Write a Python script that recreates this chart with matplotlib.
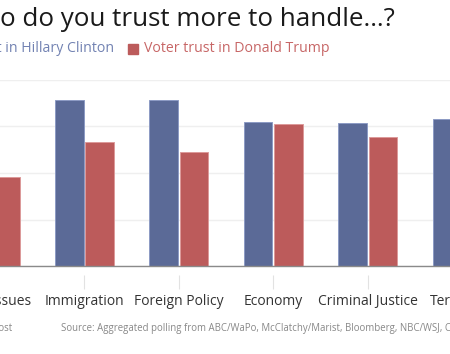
import matplotlib
matplotlib.use("Agg")
import matplotlib.pyplot as plt
import numpy as np
from matplotlib.transforms import ScaledTranslation

plt.rcParams['font.family'] = ['Open Sans', 'DejaVu Sans']

categories = ["Social Issues", "Immigration", "Foreign Policy", "Economy", "Criminal Justice", "Terrorism"]
clinton = [58, 53.5, 53.5, 46.4, 46.0, 47.3]
trump = [28.8, 40.1, 36.8, 45.8, 41.7, 42.0]
yticks = [0, 15, 30, 45, 60]

c_clinton = "#5b6a97"
c_trump = "#bc5b5b"

W, H = 450, 354
fig = plt.figure(figsize=(W / 100, H / 100), dpi=100)

# axes extends beyond the visible (cropped) figure
left_px, right_px = -57.1, 509.3
base_px, top_px = 266, 80
ax = fig.add_axes([left_px / W, (H - base_px) / H, (right_px - left_px) / W, (base_px - top_px) / H])

x = np.arange(len(categories))
bw = 0.301
off = 0.161
ax.bar(x - off, clinton, bw, color=c_clinton, edgecolor="#8d9bc4", linewidth=0.7, zorder=3)
ax.bar(x + off, trump, bw, color=c_trump, edgecolor="#dc9a9a", linewidth=0.7, zorder=3)

ax.set_xlim(-0.5, len(categories) - 0.5)
ax.set_ylim(0, 60)
ax.set_yticks(yticks)
ax.yaxis.grid(True, color="#efefef", linewidth=1.0, zorder=0)
ax.tick_params(axis='y', length=0, labelleft=False)
for s in ["top", "right", "left"]:
    ax.spines[s].set_visible(False)
ax.spines["bottom"].set_color("#8a8a8a")
ax.spines["bottom"].set_linewidth(1.0)
ax.spines["bottom"].set_zorder(4)

ax.set_xticks(x)
ax.set_xticklabels(categories, fontsize=10, color="#333333")
ax.tick_params(axis='x', length=10, width=0.8, color="#e2e2e2", direction='out', pad=10.5)
for t in ax.xaxis.get_major_ticks():
    t.tick1line.set_transform(t.tick1line.get_transform() + ScaledTranslation(0, -9 / 100, fig.dpi_scale_trans))

# title (cropped on the left)
fig.text(395 / W, 1 - 19 / H, "Who do you trust more to handle…?", ha="right", va="center",
         fontsize=18.7, color="#1a1a1a")

# legend
fig.text(114.5 / W, 1 - 49 / H, "Voter trust in Hillary Clinton", ha="right", va="center",
         fontsize=10.2, color="#7282b2")
fig.patches.append(plt.Rectangle((128 / W, 1 - 54 / H), 10 / W, 10 / H, transform=fig.transFigure,
                                 color=c_trump, figure=fig))
fig.text(144 / W, 1 - 49 / H, "Voter trust in Donald Trump", ha="left", va="center",
         fontsize=10.2, color="#c76666")

# footer
fig.text(12 / W, 1 - 329 / H, "The Washington Post", ha="right", va="center", fontsize=6.9, color="#888888")
fig.text(61.5 / W, 1 - 329 / H, "Source: Aggregated polling from ABC/WaPo, McClatchy/Marist, Bloomberg, NBC/WSJ, CNN",
         ha="left", va="center", fontsize=6.9, color="#888888")

fig.savefig("out.png", dpi=100)
